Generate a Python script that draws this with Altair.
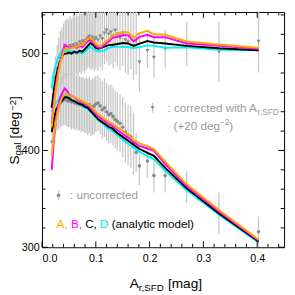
import altair as alt
import pandas as pd

# ---------------- data ----------------
A_PTS = [0.019, 0.022, 0.025, 0.028, 0.031, 0.034, 0.037, 0.040, 0.043, 0.046,
         0.049, 0.052, 0.055, 0.058, 0.061, 0.064, 0.067, 0.070, 0.073, 0.076,
         0.079, 0.082, 0.085, 0.088, 0.091, 0.094, 0.097, 0.100, 0.104, 0.108,
         0.112, 0.116, 0.120, 0.124, 0.128, 0.132, 0.136, 0.140, 0.145, 0.150,
         0.155, 0.160, 0.165, 0.170, 0.175, 0.181, 0.196, 0.208, 0.229, 0.269,
         0.329, 0.4025]
S_CORR = [445, 462, 475, 484, 490, 495, 498, 502, 504, 506,
          505, 508, 506, 509, 507, 510, 508, 512, 510, 513,
          511, 514, 516, 518, 515, 517, 514, 516, 514, 518,
          515, 521, 524, 520, 522, 518, 524, 520, 516, 521,
          514, 512, 518, 508, 513, 491, 503, 496, 505, 510,
          502, 512.5]
E_CORR = [14, 18, 22, 25, 27, 28, 29, 29, 30, 30,
          30, 30, 30, 31, 31, 31, 31, 31, 31, 31,
          31, 31, 31, 32, 32, 32, 32, 32, 32, 32,
          32, 32, 32, 32, 33, 33, 33, 33, 33, 34,
          34, 34, 34, 35, 35, 30, 18, 21, 20, 23,
          31, 32]
S_UNC = [409, 425, 436, 442, 446, 449, 451, 452, 453, 452,
         451, 452, 450, 451, 449, 450, 448, 449, 447, 448,
         446, 447, 445, 447, 444, 445, 446, 448, 449, 446,
         442, 444, 440, 437, 438, 435, 432, 430, 428, 424,
         419, 416, 414, 407, 398, 384, 389, 374, 374, 362,
         335, 316]
E_UNC = [12, 16, 20, 22, 24, 25, 26, 26, 27, 27,
         27, 28, 28, 28, 28, 28, 28, 28, 28, 28,
         28, 29, 29, 29, 29, 29, 29, 29, 29, 29,
         30, 30, 30, 30, 30, 30, 30, 30, 30, 31,
         31, 31, 32, 32, 20, 20, 17.5, 17.5, 17.5, 16.5,
         21.5, 15.5]

A_MOD = [0.018, 0.022, 0.026, 0.030, 0.034, 0.038, 0.042, 0.046, 0.050, 0.055,
         0.060, 0.065, 0.070, 0.075, 0.080, 0.085, 0.090, 0.095, 0.100, 0.105,
         0.110, 0.115, 0.120, 0.125, 0.130, 0.140, 0.150, 0.160, 0.170, 0.180,
         0.196, 0.208, 0.229, 0.269, 0.329, 0.4025]
# upper group (corrected, +20)
MOD_A_UP = [424, 446, 464, 478, 490, 498, 505, 506, 505, 506,
            507, 507, 509, 509, 512, 515, 516, 514, 510, 508,
            508, 511, 513, 515, 518, 520, 522, 522, 516, 521,
            523.5, 520, 519.5, 512.6, 509.5, 506]
MOD_B_UP = [428, 450, 468, 482, 492, 500, 509, 508, 506, 507,
            507, 506, 508, 507, 510, 513, 514, 512, 508, 506,
            506, 509, 511, 513, 516, 517.5, 519, 519, 512.6, 517,
            519.5, 517, 517, 510.5, 508, 505]
MOD_C_UP = [444, 462, 476, 486, 492, 498, 500, 500, 501, 500,
            502, 501, 503, 502, 505, 508, 511, 509, 506, 505,
            506, 507, 508, 509, 509, 510, 511, 510.5, 508, 510,
            513, 511.5, 510.5, 508, 505.5, 503.5]
MOD_D_UP = [464, 481, 489, 496, 500, 504, 504, 503, 502, 503,
            501, 500, 501, 500, 502, 505, 507, 505, 503, 502,
            503, 503, 505, 506, 507, 507, 507, 506.8, 505.8, 506.5,
            508.5, 508, 506, 506.5, 504, 503.5]
# lower group (uncorrected)
MOD_A_LO = [394, 415, 430, 442, 450, 455, 458, 459, 457, 456,
            455, 454, 452, 451, 449, 448, 446, 443, 440, 437,
            435, 433, 431, 429, 428, 424, 420, 416, 411, 407.5,
            404.5, 401.5, 388.5, 365, 338.5, 308]
MOD_B_LO = [380, 410, 432, 446, 455, 460, 464, 462, 458, 456,
            455, 453, 451, 450, 448, 447, 444, 441, 438, 435,
            433, 431, 429, 427, 426, 421, 417, 413, 409, 405,
            402, 399.5, 386, 363, 337, 307]
MOD_C_LO = [419, 432, 442, 446, 450, 452, 455, 455, 454, 452,
            451, 449, 448, 447, 445, 444, 441, 438, 435, 432,
            430, 428, 426, 424, 423, 418, 414, 410, 406, 402,
            397.5, 394.5, 382, 361, 335, 306]
MOD_D_LO = [440, 446, 450, 452, 455, 457, 458, 456, 455, 452,
            451, 449, 447, 446, 444, 443, 440, 437, 434, 431,
            429, 427, 424, 422, 420.5, 416, 411, 407, 403, 399,
            394, 391, 379, 359, 333.5, 305]

X_MAJOR = [0.0, 0.1, 0.2, 0.3, 0.4]
X_MINOR = [0.02, 0.04, 0.06, 0.08, 0.12, 0.14, 0.16, 0.18, 0.22, 0.24, 0.26,
           0.28, 0.32, 0.34, 0.36, 0.38, 0.42, 0.44]
Y_MAJOR = [300, 400, 500]
Y_MINOR = [320, 340, 360, 380, 420, 440, 460, 480, 520, 540]

# ---------------- layout / style ----------------
W, H = 249, 242
FONT = "Liberation Sans"
GRAY_TXT = "#9a9a9a"
BAR = "#c6c6c6"
PT = "#8a8a8a"

xs = alt.Scale(domain=[0, 0.45], nice=False, zero=False)
ys = alt.Scale(domain=[300, 543], nice=False, zero=False)
AX = alt.Axis(values=X_MAJOR, format=".1f", ticks=False, tickSize=0, domain=False,
              grid=False, labelFontSize=11, labelPadding=6, labelColor="black",
              labelFont=FONT, title=None)
AY = alt.Axis(values=Y_MAJOR, format="d", ticks=False, tickSize=0, domain=False,
              grid=False, labelFontSize=11, labelPadding=3, labelColor="black",
              labelFont=FONT, title=None)


def X(f):
    return alt.X(f, type="quantitative", scale=xs, axis=AX)


def Y(f):
    return alt.Y(f, type="quantitative", scale=ys, axis=AY)


pts = pd.DataFrame({"A": A_PTS, "corr": S_CORR, "ec": E_CORR, "unc": S_UNC, "eu": E_UNC})
pts["c_lo"] = pts["corr"] - pts["ec"]
pts["c_hi"] = pts["corr"] + pts["ec"]
pts["u_lo"] = pts["unc"] - pts["eu"]
pts["u_hi"] = pts["unc"] + pts["eu"]

base = alt.Chart(pts)
layers = [
    base.mark_rule(color=BAR, strokeWidth=1.3, clip=True).encode(x=X("A"), y=Y("c_lo"), y2="c_hi"),
    base.mark_rule(color=BAR, strokeWidth=1.3, clip=True).encode(x=X("A"), y=Y("u_lo"), y2="u_hi"),
    base.mark_point(shape="triangle-down", filled=True, size=18, color=PT, opacity=1, clip=True)
        .encode(x=X("A"), y=Y("corr")),
    base.mark_circle(size=14, color=PT, opacity=1, clip=True).encode(x=X("A"), y=Y("unc")),
]

models = [("#00f0f0", MOD_D_UP, MOD_D_LO), ("black", MOD_C_UP, MOD_C_LO),
          ("#ff00ff", MOD_B_UP, MOD_B_LO), ("#ffa500", MOD_A_UP, MOD_A_LO)]
for col, up, lo in models:
    for series in (up, lo):
        df = pd.DataFrame({"A": A_MOD, "S": series})
        layers.append(alt.Chart(df).mark_line(color=col, strokeWidth=2, clip=True)
                      .encode(x=X("A"), y=Y("S")))

# inward ticks on all four sides
def xtick(vals, ln, top):
    y0, y1 = (0, ln) if top else (H, H - ln)
    return alt.Chart(pd.DataFrame({"t": vals})).mark_rule(color="black", strokeWidth=1).encode(
        x=X("t"), y=alt.value(y0), y2=alt.value(y1))


def ytick(vals, ln, right):
    x0, x1 = (W, W - ln) if right else (0, ln)
    return alt.Chart(pd.DataFrame({"t": vals})).mark_rule(color="black", strokeWidth=1).encode(
        y=Y("t"), x=alt.value(x0), x2=alt.value(x1))


for side in (False, True):
    layers += [xtick(X_MAJOR, 6, side), xtick(X_MINOR, 3.5, side),
               ytick(Y_MAJOR, 6, side), ytick(Y_MINOR, 3.5, side)]

one = pd.DataFrame({"k": [0]})


def txt(s, x, y, size=12, color=GRAY_TXT, angle=None):
    kw = dict(align="left", baseline="alphabetic", font=FONT, fontSize=size, color=color)
    if angle is not None:
        kw["angle"] = angle
    return alt.Chart(one).mark_text(**kw).encode(
        x=alt.value(x), y=alt.value(y), text=alt.value(s))


# legend markers
layers += [
    alt.Chart(one).mark_rule(color=BAR, strokeWidth=1.3).encode(
        x=alt.value(113.7), y=alt.value(93.5), y2=alt.value(103.5)),
    alt.Chart(one).mark_point(shape="triangle-down", filled=True, size=18, color=PT, opacity=1).encode(
        x=alt.value(113.7), y=alt.value(98.5)),
    alt.Chart(one).mark_rule(color=BAR, strokeWidth=1.3).encode(
        x=alt.value(17), y=alt.value(183.7), y2=alt.value(193.7)),
    alt.Chart(one).mark_circle(size=14, color=PT, opacity=1).encode(
        x=alt.value(17), y=alt.value(188.7)),
]

# legend texts
layers += [
    txt(": corrected with A", 129, 103),
    txt("r,SFD", 221.7, 106, size=8.5),
    txt("(+20 deg", 135.3, 121.5),
    txt("\u22122", 183, 116.5, size=8.5),
    txt(")", 192.7, 121.5),
    txt(": uncorrected", 28.7, 192),
    txt("A,", 15, 222, color="#ffa500"),
    txt("B,", 29.7, 222, color="#ff00ff"),
    txt("C,", 44.4, 222, color="black"),
    txt("D", 59.7, 222, color="#00e0e0"),
    txt("(analytic model)", 68.4 + 3.3, 222, color="black"),
]

# axis titles (y title rotated, kept inside the drawable area)
layers += [
    txt("A", 90.3, 283.5, size=14, color="black"),
    txt("r,SFD", 99.6, 287, size=10, color="black"),
    txt("[mag]", 129.6, 283.5, size=14, color="black"),
    txt("S", -24, 157, size=14, color="black", angle=270),
    txt("gal", -22, 147.7, size=10, color="black", angle=270),
    txt("[deg", -24, 130, size=14, color="black", angle=270),
    txt("\u22122", -26.5, 101.5, size=9.5, color="black", angle=270),
    txt("]", -24, 90.5, size=14, color="black", angle=270),
]

chart = alt.layer(*layers).properties(
    width=W, height=H,
    autosize=alt.AutoSizeParams(type="none"),
    padding={"left": 35, "top": 0, "right": 3, "bottom": 45},
).configure_view(stroke="black", strokeWidth=1)

chart.save("out.html", embed_options={"renderer": "svg", "actions": False})
